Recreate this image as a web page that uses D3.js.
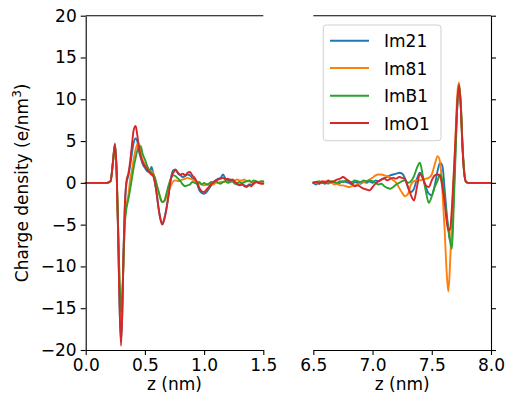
<!DOCTYPE html>
<html><head><meta charset="utf-8">
<script src="https://cdn.jsdelivr.net/npm/d3@7"></script>
<style>body{margin:0;background:#fff}svg{display:block}text{font-family:"DejaVu Sans",sans-serif}</style>
</head><body><svg id="c" width="508" height="401"></svg>
<script>
const seriesNames = ["Im21","Im81","ImB1","ImO1"];
const colors = ["#1f77b4","#ff7f0e","#2ca02c","#d62728"];
const yTicks = [-20,-15,-10,-5,0,5,10,15,20];
const xTicksLeft = [0,0.5,1.0,1.5];
const xTicksRight = [6.5,7.0,7.5,8.0];

const zLeft = [0,0.1,0.18,0.21,0.23,0.247,0.262,0.275,0.285,0.298,
  0.31,0.32,0.33,0.345,0.36,0.375,0.39,0.405,0.422,0.435,
  0.45,0.465,0.48,0.5,0.52,0.54,0.555,0.57,0.585,0.6,
  0.615,0.63,0.647,0.665,0.68,0.7,0.72,0.74,0.76,0.78,
  0.8,0.82,0.84,0.86,0.88,0.9,0.92,0.94,0.96,0.98,
  1.0,1.02,1.04,1.06,1.08,1.1,1.12,1.14,1.16,1.18,
  1.2,1.22,1.24,1.26,1.28,1.3,1.32,1.34,1.36,1.38,
  1.4,1.42,1.44,1.46,1.48,1.5];

const im21Left = [0,0,0,0.2,2.5,4.7,1.0,-7,-14,-19.0,
  -15,-8,-3,0.0,0.8,2.0,3.5,4.8,5.3,5.0,
  3.8,3.0,2.3,1.8,1.4,1.3,1.9,1.2,0.0,-1.4,
  -3.0,-4.2,-4.9,-4.2,-3.2,-1.4,0.6,1.5,1.6,1.1,
  0.9,0.7,0.8,1.0,0.9,0.6,0.3,-0.1,-0.9,-1.2,
  -1.3,-1.1,-0.7,-0.3,0.1,0.3,0.5,0.6,1.0,0.5,
  0.3,0.4,0.2,0.0,-0.2,-0.2,-0.1,-0.3,-0.4,-0.2,
  -0.2,0.0,0.1,0.0,0.1,0.0];
const im81Left = [0,0,0,0.2,2.4,4.5,1.0,-6,-12,-16.5,
  -14,-9,-5,-2.5,-1.5,0.3,1.5,2.8,4.0,4.6,
  4.7,3.6,2.8,2.2,1.8,1.5,1.4,1.2,0.5,-0.3,
  -1.0,-1.8,-2.3,-2.2,-1.8,-1.0,-0.3,0.2,0.3,0.2,
  0.3,0.4,0.5,0.6,0.5,0.4,0.2,0.0,-0.1,-0.2,
  -0.3,-0.2,-0.3,-0.1,-0.2,0.0,0.0,0.1,0.1,0.2,
  0.1,0.2,0.3,0.3,0.4,0.3,0.3,0.4,0.2,0.2,
  0.1,0.2,0.1,0.1,0.0,0.1];
const imB1Left = [0,0,0,0.2,2.4,4.5,1.0,-6,-11,-15.5,
  -13,-9,-5,-3,-2,-0.8,0.5,1.8,3.0,3.8,
  4.3,4.4,3.5,2.8,2.0,1.4,1.2,1.0,0.6,-0.2,
  -1.0,-1.8,-2.3,-2.1,-1.4,-0.3,0.5,0.9,0.8,0.5,
  0.2,-0.2,-0.4,-0.3,-0.2,0.1,0.0,-0.1,0.1,-0.2,
  0.0,-0.2,-0.1,0.1,0.0,0.2,0.0,-0.1,0.1,0.2,
  0.0,0.1,0.2,-0.1,0.0,0.1,0.0,0.1,0.2,0.3,
  0.1,0.3,0.2,0.1,0.2,0.2];
const imO1Left = [0,0,0,0.2,2.5,4.6,1.0,-7,-14,-19.5,
  -15,-8,-3,0.3,1.1,2.5,4.5,6.3,6.8,5.8,
  4.2,3.2,2.5,2.0,1.6,1.2,1.0,0.8,0.0,-1.3,
  -3.0,-4.3,-5.0,-4.3,-3.3,-1.5,0.5,1.2,1.5,1.2,
  1.0,1.1,0.9,1.2,1.3,0.9,0.6,0.1,-0.6,-1.0,
  -1.1,-0.8,-0.5,-0.2,0.1,0.3,0.4,0.5,0.6,0.4,
  0.5,0.3,0.4,0.1,-0.1,-0.3,-0.2,-0.4,-0.5,-0.3,
  -0.4,-0.1,0.1,0.0,-0.1,-0.1];

const zRight = [6.5,6.525,6.55,6.575,6.6,6.625,6.65,6.675,6.7,6.725,
  6.75,6.775,6.8,6.825,6.85,6.875,6.9,6.925,6.95,6.975,
  7.0,7.025,7.05,7.075,7.1,7.125,7.15,7.175,7.2,7.225,
  7.25,7.275,7.3,7.325,7.35,7.375,7.4,7.425,7.45,7.475,
  7.5,7.525,7.55,
  7.57,7.59,7.61,7.625,7.64,7.655,7.67,7.685,7.7,7.715,
  7.73,7.745,7.76,7.775,7.79,7.81,7.85,7.9,7.95,8.0];

const im21Right = [0.0,-0.2,0.1,0.0,-0.1,0.2,0.0,0.1,-0.1,0.0,
  0.2,0.1,0.0,-0.2,0.1,0.0,-0.1,0.1,0.0,0.2,
  0.0,0.3,0.2,0.4,0.6,0.7,0.9,1.0,1.1,1.2,
  1.1,0.5,-0.6,-1.1,-0.7,0.5,1.2,0.6,-0.5,-1.3,
  -1.5,-0.3,1.5,
  2.4,2.0,-1.0,-3.5,-5.5,-7.0,-6.5,-1.5,4.0,9.0,
  11.5,9.2,4.2,1.0,0.1,0,0,0,0,0];
const im81Right = [0.1,0.0,-0.1,0.1,0.2,0.0,0.1,-0.2,-0.1,-0.3,
  -0.3,-0.4,-0.5,-0.4,-0.3,-0.2,0.0,0.1,0.2,0.4,
  0.6,0.9,1.0,1.0,0.9,0.8,0.6,0.3,0.0,-0.6,
  -1.2,-1.6,-1.3,-0.2,0.2,0.3,0.3,0.4,0.5,0.6,
  1.0,2.2,3.2,
  2.5,-1.0,-6.0,-10.5,-13.0,-9.5,-4.0,0.5,5.5,10.5,
  12.0,9.3,4.2,1.1,0.1,0,0,0,0,0];
const imB1Right = [0.0,0.1,0.2,0.0,0.1,-0.1,0.2,0.1,0.0,0.2,
  0.1,0.3,0.2,0.1,0.3,0.2,0.1,0.3,0.2,0.3,
  0.2,0.0,-0.2,-0.1,-0.4,-0.6,-0.7,-0.5,-0.2,0.0,
  0.2,0.3,0.0,0.2,0.8,1.8,2.4,0.8,-1.0,-2.4,
  -1.6,-0.5,0.3,
  1.0,0.3,-2.0,-4.0,-5.5,-7.0,-7.9,-3.0,3.0,9.0,
  11.7,9.5,4.5,1.2,0.1,0,0,0,0,0];
const imO1Right = [0.0,0.1,-0.1,0.2,0.0,0.3,0.1,0.2,0.4,0.5,
  0.7,0.5,0.2,-0.1,-0.4,-0.3,-0.5,-0.7,-0.8,-0.9,
  -0.5,-0.1,0.2,0.4,0.5,0.3,0.5,0.6,0.5,0.7,
  0.6,0.4,-0.5,-1.5,-2.1,-0.5,1.1,0.5,-0.3,-0.5,
  0.3,0.9,1.0,
  0.8,-0.5,-2.5,-4.5,-5.7,-5.5,-3.0,1.0,5.0,9.5,
  11.7,9.0,4.0,1.0,0.1,0,0,0,0,0];

const leftSeries = [im21Left, im81Left, imB1Left, imO1Left];
const rightSeries = [im21Right, im81Right, imB1Right, imO1Right];

const svg = d3.select("#c");
const FS = 17;
const y = d3.scaleLinear().domain([-20,20]).range([350,15.7]);
const xL = d3.scaleLinear().domain([0,1.5]).range([85.7,263.3]);
const xR = d3.scaleLinear().domain([6.5,8.0]).range([313.3,491]);
const fmtY = d => d3.format("d")(d).replace("-","\u2212");
const fmtX = d3.format(".1f");

function drawPanel(x, zs, series, ticks) {
  const line = d3.line().x((d,i)=>x(zs[i])).y(d=>y(d)).curve(d3.curveMonotoneX);
  series.forEach((s,k)=>{
    svg.append("path").datum(s).attr("d", line)
      .attr("fill","none").attr("stroke",colors[k]).attr("stroke-width",1.9)
      .attr("stroke-linejoin","round").attr("stroke-linecap","round");
  });
  const ax = d3.axisBottom(x).tickValues(ticks).tickFormat(fmtX).tickSize(5).tickSizeOuter(0).tickPadding(4);
  const g = svg.append("g").attr("transform",`translate(0,${y(-20)})`).call(ax);
  g.selectAll("text").attr("font-size",FS).attr("fill","#000").attr("font-family","DejaVu Sans");
  g.selectAll("line,path").attr("stroke","#000").attr("stroke-width",1.1);
  svg.append("line").attr("x1",x.range()[0]).attr("x2",x.range()[1])
    .attr("y1",y(20)).attr("y2",y(20)).attr("stroke","#000").attr("stroke-width",1.1);
  svg.append("text").attr("x",(x.range()[0]+x.range()[1])/2).attr("y",390)
    .attr("text-anchor","middle").attr("font-size",FS).text("z (nm)");
}

drawPanel(xL, zLeft, leftSeries, xTicksLeft);
drawPanel(xR, zRight, rightSeries, xTicksRight);

const gl = svg.append("g").attr("transform",`translate(${xL.range()[0]},0)`)
  .call(d3.axisLeft(y).tickValues(yTicks).tickFormat(fmtY).tickSize(5).tickSizeOuter(0).tickPadding(4));
gl.selectAll("text").attr("font-size",FS).attr("fill","#000").attr("font-family","DejaVu Sans");
gl.selectAll("line,path").attr("stroke","#000").attr("stroke-width",1.1);

const gr = svg.append("g").attr("transform",`translate(${xR.range()[1]},0)`)
  .call(d3.axisRight(y).tickValues(yTicks).tickFormat("").tickSize(5).tickSizeOuter(0));
gr.selectAll("line,path").attr("stroke","#000").attr("stroke-width",1.1);

const yl = svg.append("text").attr("transform",`translate(28,${(y(20)+y(-20))/2}) rotate(-90)`)
  .attr("text-anchor","middle").attr("font-size",FS);
yl.append("tspan").text("Charge density (e/nm");
yl.append("tspan").attr("font-size",12).attr("dy",-7).text("3");
yl.append("tspan").attr("dy",7).text(")");

const leg = svg.append("g");
leg.append("rect").attr("x",323.3).attr("y",25).attr("width",117.7).attr("height",115.7)
  .attr("rx",3).attr("fill","#fff").attr("fill-opacity",0.8).attr("stroke","#d0d0d0").attr("stroke-width",1);
const legY = [40.7,68,95.7,123];
seriesNames.forEach((n,k)=>{
  leg.append("line").attr("x1",330).attr("x2",369).attr("y1",legY[k]).attr("y2",legY[k])
    .attr("stroke",colors[k]).attr("stroke-width",1.9);
  leg.append("text").attr("x",384).attr("y",legY[k]+6.5).attr("font-size",FS).text(n);
});
</script></body></html>
